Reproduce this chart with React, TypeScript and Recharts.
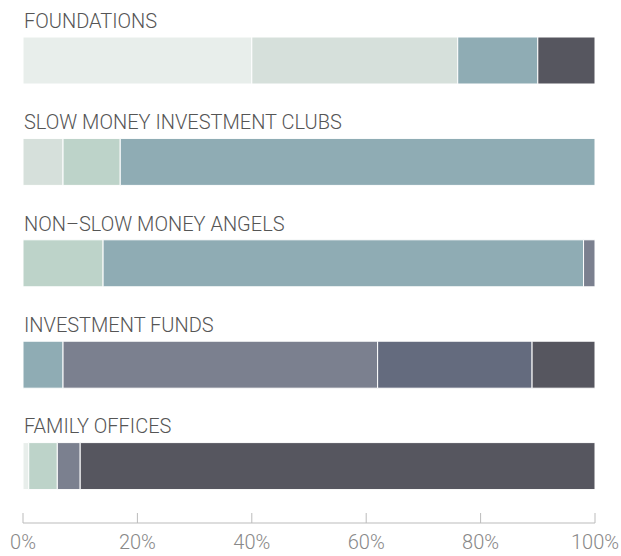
import { BarChart, Bar, XAxis, YAxis } from "recharts";

const categories = [
  "FOUNDATIONS",
  "SLOW MONEY INVESTMENT CLUBS",
  "NON–SLOW MONEY ANGELS",
  "INVESTMENT FUNDS",
  "FAMILY OFFICES",
];

// shares per segment, lightest to darkest
const seg1 = [40, 0, 0, 0, 1];
const seg2 = [36, 7, 0, 0, 0];
const seg3 = [0, 10, 14, 0, 5];
const seg4 = [14, 83, 84, 7, 0];
const seg5 = [0, 0, 2, 55, 4];
const seg6 = [0, 0, 0, 27, 0];
const seg7 = [10, 0, 0, 11, 90];

const ticks = [0, 20, 40, 60, 80, 100];

const SEGMENTS = [
  { key: "seg1", values: seg1, color: "#e8eeeb" },
  { key: "seg2", values: seg2, color: "#d6e0db" },
  { key: "seg3", values: seg3, color: "#bdd3c9" },
  { key: "seg4", values: seg4, color: "#8facb4" },
  { key: "seg5", values: seg5, color: "#7b808f" },
  { key: "seg6", values: seg6, color: "#646b7e" },
  { key: "seg7", values: seg7, color: "#56565f" },
];

const data = categories.map((name, i) => {
  const row: Record<string, string | number> = { name };
  SEGMENTS.forEach((s) => (row[s.key] = s.values[i]));
  return row;
});

const FONT = "Roboto, sans-serif";

const CategoryTick = (props: any) => (
  <text x={24} y={props.y - 33} fill="#555" fontSize={20} fontWeight={300} fontFamily={FONT}>
    {props.payload.value}
  </text>
);

const PercentTick = (props: any) => (
  <g>
    <line x1={props.x} x2={props.x} y1={props.y} y2={props.y - 10} stroke="#bbb" />
    <text
      x={props.x}
      y={props.y + 26}
      textAnchor="middle"
      fill="#888"
      fontSize={20}
      fontWeight={300}
      fontFamily={FONT}
    >
      {props.payload.value}%
    </text>
  </g>
);

export default function App() {
  return (
    <div style={{ position: "absolute", left: 0, top: 0, background: "#fff" }}>
      <BarChart
        width={621}
        height={556}
        data={data}
        layout="vertical"
        barSize={47}
        margin={{ top: 10, right: 26, left: 22, bottom: 0 }}
      >
        <XAxis
          type="number"
          domain={[0, 100]}
          ticks={ticks}
          height={33}
          axisLine={{ stroke: "#bbb" }}
          tickLine={false}
          tickSize={0}
          tickMargin={0}
          tick={PercentTick}
          interval={0}
        />
        <YAxis
          type="category"
          dataKey="name"
          width={1}
          axisLine={false}
          tickLine={false}
          tick={CategoryTick}
          padding={{ top: 0, bottom: 6 }}
          interval={0}
        />
        {SEGMENTS.map((s) => (
          <Bar
            key={s.key}
            dataKey={s.key}
            stackId="a"
            fill={s.color}
            stroke="#fff"
            strokeWidth={1}
            isAnimationActive={false}
          />
        ))}
      </BarChart>
    </div>
  );
}
